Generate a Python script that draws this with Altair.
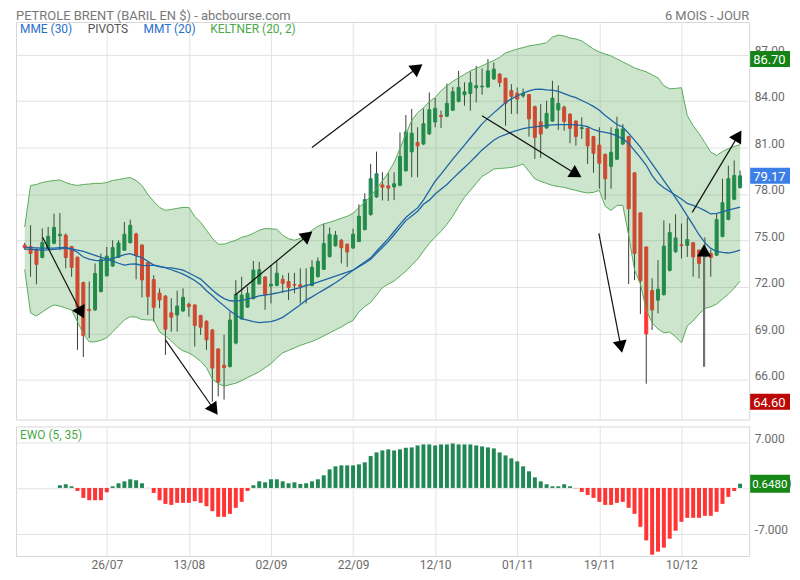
import json
import math
import altair as alt
import pandas as pd

TITLE = "PETROLE BRENT (BARIL EN $) - abcbourse.com"
PERIOD = "6 MOIS - JOUR"

tick_idx = [14, 28, 42, 56, 70, 84, 98, 112]
tick_labels = ["26/07", "13/08", "02/09", "22/09", "12/10", "01/11", "19/11", "10/12"]
price_ticks = [66, 69, 72, 75, 78, 81, 84, 87]
ewo_ticks = [-7, 0, 7]
ewo_tick_labels = ["-7.000", "0.0000", "7.000"]

opens = [74.70, 74.61, 74.38, 73.90, 74.45, 74.82, 75.30, 75.34, 74.60, 73.92,
         72.28, 70.56, 70.52, 71.70, 72.72, 73.35, 73.92, 74.37, 74.86, 75.42,
         74.70, 73.57, 72.48, 71.60, 71.40, 70.33, 70.19, 70.45, 70.88, 70.83,
         70.16, 69.79, 69.22, 68.00, 66.95, 66.87, 68.38, 69.94, 70.70, 71.25,
         72.20, 72.64, 72.06, 72.10, 72.50, 72.35, 72.15, 72.14, 72.07, 72.09,
         72.67, 73.14, 73.96, 74.65, 75.01, 74.76, 74.52, 74.93, 75.70, 76.67,
         77.81, 78.58, 78.52, 78.45, 78.56, 79.49, 80.72, 81.32, 81.22, 81.88,
         82.64, 83.07, 83.02, 83.40, 83.98, 84.40, 84.48, 84.85, 84.91, 84.90,
         85.42, 85.73, 85.46, 84.66, 84.50, 84.32, 84.41, 83.63, 82.65, 82.26,
         82.70, 83.42, 83.60, 83.15, 82.70, 82.22, 82.24, 81.70, 81.15, 80.56,
         79.78, 80.24, 81.22, 81.70, 79.36, 76.78, 74.58, 71.77, 71.15, 71.50,
         73.07, 74.28, 74.72, 74.68, 74.85, 74.38, 73.95, 74.16, 74.05, 75.26,
         76.36, 77.66, 78.41]
highs = [74.85, 75.98, 74.50, 75.77, 75.87, 76.73, 76.77, 75.45, 74.65, 73.95,
         72.35, 72.35, 73.52, 74.16, 74.58, 75.01, 75.01, 76.19, 76.34, 75.50,
         74.75, 73.60, 72.76, 71.90, 71.48, 71.27, 71.76, 71.91, 71.00, 70.90,
         70.20, 69.85, 69.30, 68.05, 68.91, 70.41, 72.44, 72.66, 72.01, 73.68,
         73.62, 72.70, 73.41, 73.67, 72.76, 72.91, 72.91, 73.20, 73.20, 73.73,
         73.90, 76.09, 75.83, 75.61, 75.10, 74.80, 75.77, 77.33, 78.05, 79.94,
         80.73, 79.40, 79.35, 79.40, 81.97, 83.09, 83.48, 82.30, 83.50, 84.55,
         84.20, 83.37, 85.12, 84.90, 85.94, 85.20, 85.90, 86.26, 86.10, 86.70,
         86.48, 85.80, 85.50, 85.08, 84.87, 84.80, 84.45, 83.70, 83.80, 84.01,
         85.30, 85.00, 83.70, 83.20, 82.75, 82.94, 82.30, 81.75, 82.30, 80.60,
         82.30, 82.98, 82.51, 81.75, 79.40, 76.80, 74.60, 72.56, 73.73, 76.30,
         76.10, 76.69, 76.09, 76.48, 74.90, 74.40, 75.20, 74.40, 76.73, 78.98,
         79.83, 80.16, 79.51]
lows = [74.40, 72.66, 72.17, 73.85, 74.40, 74.75, 74.37, 73.20, 72.66, 67.94,
        67.48, 68.70, 70.45, 71.65, 72.68, 73.30, 73.88, 74.35, 74.80, 72.49,
        71.33, 70.19, 69.76, 70.63, 67.62, 69.12, 69.12, 70.40, 70.08, 68.16,
        68.91, 67.94, 64.60, 64.94, 64.73, 66.80, 68.30, 69.90, 70.65, 71.20,
        72.15, 70.52, 70.94, 72.05, 71.63, 71.16, 71.59, 70.94, 70.94, 72.05,
        72.60, 73.10, 73.90, 74.60, 73.52, 73.30, 74.45, 74.90, 75.65, 76.60,
        77.75, 77.58, 77.55, 77.60, 78.50, 79.45, 79.08, 79.08, 81.15, 81.80,
        82.30, 82.26, 82.95, 83.35, 83.90, 83.69, 83.37, 83.90, 84.40, 84.85,
        85.35, 84.90, 82.40, 83.16, 83.16, 84.20, 81.70, 80.26, 80.33, 82.20,
        82.65, 82.13, 82.08, 81.27, 81.12, 81.55, 79.94, 79.37, 78.34, 77.63,
        78.34, 80.20, 81.15, 72.19, 72.44, 70.26, 65.76, 69.23, 70.30, 71.45,
        73.00, 74.20, 73.84, 73.94, 72.66, 72.55, 73.90, 72.66, 74.00, 75.20,
        76.30, 77.60, 78.35]
closes = [74.52, 74.16, 73.45, 74.86, 75.27, 75.84, 75.40, 73.90, 73.26, 70.70,
          68.86, 70.47, 72.87, 73.77, 73.99, 74.54, 74.84, 75.40, 75.98, 74.02,
          72.45, 71.38, 70.69, 71.16, 69.28, 70.05, 70.77, 71.33, 70.73, 69.51,
          69.40, 68.59, 66.77, 65.87, 66.80, 69.87, 71.52, 71.48, 71.59, 73.09,
          73.11, 71.52, 72.18, 72.89, 72.23, 71.97, 72.12, 71.99, 72.10, 73.27,
          73.66, 74.80, 75.39, 75.34, 74.53, 74.26, 75.40, 76.56, 77.64, 78.98,
          79.30, 78.44, 78.38, 78.66, 80.41, 82.00, 81.92, 81.10, 82.53, 83.43,
          83.52, 83.00, 83.84, 84.59, 84.87, 84.59, 85.17, 84.98, 84.96, 85.94,
          86.05, 85.19, 83.84, 84.29, 84.12, 84.50, 82.84, 81.65, 81.87, 83.20,
          84.18, 83.84, 82.68, 82.23, 81.70, 82.28, 81.10, 80.62, 79.98, 78.98,
          80.69, 82.19, 82.19, 77.05, 74.16, 72.40, 68.97, 70.52, 71.85, 74.63,
          75.51, 75.16, 74.67, 75.06, 73.94, 73.52, 74.37, 73.90, 76.35, 77.44,
          78.98, 79.19, 79.17]
kelt_up = [75.87, 78.55, 78.61, 78.74, 78.81, 78.87, 78.90, 78.74, 78.61, 78.55,
           78.61, 78.64, 78.68, 78.68, 78.74, 78.87, 78.93, 79.00, 79.06, 78.87,
           78.55, 77.97, 77.52, 77.13, 76.94, 77.00, 77.07, 77.13, 77.13, 76.55,
           76.17, 75.66, 75.14, 74.76, 74.76, 74.89, 75.01, 75.20, 75.30, 75.46,
           75.66, 75.77, 75.75, 75.72, 75.34, 75.11, 75.01, 75.14, 75.34, 75.66,
           75.91, 76.07, 76.17, 76.30, 76.43, 76.56, 76.75, 77.13, 77.46, 77.84,
           78.36, 78.84, 79.38, 80.03, 80.93, 81.87, 82.73, 83.24, 83.56, 83.95,
           84.22, 84.65, 84.98, 85.26, 85.49, 85.71, 85.94, 86.10, 86.26, 86.45,
           86.61, 86.81, 87.10, 87.22, 87.35, 87.44, 87.55, 87.61, 87.67, 87.76,
           88.12, 88.25, 88.19, 88.06, 88.00, 87.87, 87.61, 87.35, 87.16, 87.03,
           86.90, 86.71, 86.52, 86.33, 86.13, 86.00, 85.88, 85.68, 85.49, 84.98,
           84.78, 84.81, 84.85, 83.05, 82.40, 81.89, 81.31, 80.70, 80.48, 80.73,
           80.93, 81.06, 81.18]
kelt_lo = [73.13, 70.32, 70.13, 70.39, 70.64, 70.84, 70.77, 70.64, 70.52, 69.75,
           68.98, 68.46, 68.46, 68.56, 68.72, 69.10, 69.49, 69.87, 70.08, 70.06,
           69.90, 69.87, 69.87, 69.10, 68.85, 68.52, 68.14, 67.88, 67.75, 67.50,
           67.21, 66.79, 66.05, 65.76, 65.60, 65.70, 65.79, 65.95, 66.15, 66.34,
           66.53, 66.79, 67.05, 67.43, 67.75, 67.91, 68.07, 68.23, 68.36, 68.49,
           68.65, 68.84, 69.04, 69.23, 69.42, 69.65, 69.84, 70.39, 70.74, 71.00,
           71.48, 71.96, 72.19, 72.38, 72.70, 73.02, 73.41, 73.79, 74.31, 74.82,
           75.21, 75.59, 76.04, 76.56, 77.20, 77.78, 78.23, 78.68, 79.13, 79.35,
           79.61, 79.64, 79.67, 79.71, 79.80, 79.93, 79.45, 78.97, 78.81, 78.68,
           78.55, 78.48, 78.42, 78.32, 78.23, 78.13, 78.07, 78.10, 78.23, 77.20,
           76.94, 77.26, 77.26, 75.34, 73.09, 72.19, 70.52, 69.68, 69.29, 69.04,
           69.10, 68.78, 68.40, 69.49, 69.81, 70.26, 70.62, 70.72, 70.90, 71.22,
           71.54, 71.93, 72.38]
mmt20 = [74.44, 74.42, 74.40, 74.38, 74.39, 74.42, 74.46, 74.50, 74.42, 74.24,
         73.93, 73.80, 73.72, 73.68, 73.76, 73.84, 73.95, 74.08, 74.15, 74.00,
         73.89, 73.66, 73.41, 73.33, 73.25, 73.11, 72.98, 72.83, 72.63, 72.42,
         72.14, 71.76, 71.43, 71.10, 70.78, 70.46, 70.19, 69.95, 69.86, 69.77,
         69.70, 69.73, 69.76, 69.88, 70.04, 70.30, 70.58, 70.85, 71.15, 71.36,
         71.59, 71.81, 72.04, 72.27, 72.53, 72.81, 73.08, 73.35, 73.61, 73.88,
         74.30, 74.71, 75.12, 75.58, 76.04, 76.48, 76.80, 77.10, 77.60, 78.21,
         78.82, 79.28, 79.76, 80.24, 80.70, 81.15, 81.61, 82.06, 82.52, 82.89,
         83.23, 83.56, 83.90, 84.13, 84.32, 84.51, 84.65, 84.74, 84.76, 84.72,
         84.69, 84.61, 84.47, 84.32, 84.21, 84.03, 83.85, 83.65, 83.40, 83.06,
         82.77, 82.48, 82.32, 81.91, 81.47, 81.02, 80.48, 79.94, 79.41, 78.86,
         78.32, 77.74, 77.18, 76.58, 75.99, 75.37, 74.86, 74.49, 74.29, 74.23,
         74.19, 74.27, 74.37]
mme30 = [74.56, 74.54, 74.52, 74.50, 74.50, 74.51, 74.54, 74.55, 74.46, 74.37,
         74.29, 74.17, 74.04, 73.91, 73.80, 73.66, 73.53, 73.41, 73.47, 73.48,
         73.39, 73.38, 73.41, 73.31, 73.25, 73.23, 73.16, 73.08, 72.90, 72.71,
         72.51, 72.16, 71.81, 71.49, 71.25, 71.11, 71.08, 71.13, 71.22, 71.31,
         71.42, 71.48, 71.54, 71.61, 71.70, 71.77, 71.86, 71.96, 72.10, 72.19,
         72.31, 72.44, 72.57, 72.70, 72.83, 72.96, 73.08, 73.31, 73.53, 73.79,
         74.17, 74.55, 74.93, 75.37, 75.83, 76.28, 76.58, 76.88, 77.33, 77.60,
         78.00, 78.31, 78.61, 78.99, 79.35, 79.71, 80.07, 80.45, 80.84, 81.16,
         81.46, 81.69, 81.83, 81.99, 82.10, 82.21, 82.28, 82.33, 82.38, 82.42,
         82.45, 82.47, 82.47, 82.47, 82.46, 82.42, 82.35, 82.16, 82.04, 81.97,
         81.89, 81.75, 81.55, 81.28, 80.80, 80.34, 79.85, 79.18, 78.70, 78.40,
         78.16, 77.92, 77.67, 77.39, 77.26, 77.11, 76.92, 76.71, 76.75, 76.85,
         76.95, 77.05, 77.15]
ewo = [None, None, None, None, None, None, 0.41, 0.56, 0.25, -0.46,
       -1.52, -1.88, -1.88, -1.88, -0.66, 0.25, 0.71, 1.01, 1.32, 1.17,
       0.71, 0.02, -0.76, -1.88, -2.44, -2.59, -2.28, -2.28, -2.28, -2.03,
       -2.28, -2.79, -3.55, -4.41, -4.41, -3.96, -3.04, -2.13, -0.46, 0.41,
       1.01, 0.86, 1.32, 1.32, 1.01, 0.71, 0.86, 0.61, 0.71, 1.01,
       1.32, 1.93, 2.84, 3.30, 3.45, 3.45, 3.45, 3.60, 3.91, 4.87,
       5.43, 5.73, 5.89, 5.73, 5.89, 6.14, 6.19, 6.49, 6.65, 6.65,
       6.49, 6.65, 6.65, 6.80, 6.65, 6.65, 6.65, 6.49, 6.34, 6.19,
       6.04, 5.43, 4.97, 4.52, 4.06, 3.30, 2.54, 1.62, 1.01, 0.56,
       0.25, 0.25, 0.56, 0.25, -0.05, -0.61, -1.07, -1.52, -2.13, -2.59,
       -2.59, -2.28, -2.13, -3.04, -3.96, -5.94, -8.02, -10.20, -9.74, -9.13,
       -7.76, -6.54, -5.18, -4.57, -4.57, -4.57, -4.26, -4.26, -3.65, -2.44,
       -1.37, -0.46, 0.648]

# hand-drawn arrows (candle index, price)
arr_x1 = [3.05, 24.0, 35.9, 48.98, 77.98, 97.92, 115.86, 113.84]
arr_p1 = [75.21, 68.59, 71.48, 80.99, 83.05, 75.46, 66.85, 76.81]
arr_x2 = [10.26, 33.1, 49.31, 68.09, 95.24, 101.94, 115.86, 122.4]
arr_p2 = [69.87, 63.65, 75.66, 86.45, 79.00, 67.62, 74.89, 82.21]
arr_line_color = ["#111111"] * 6 + ["#707070", "#111111"]
arr_line_width = [1.2] * 6 + [2.2, 1.2]

legend_labels = ["MME (30)", "PIVOTS", "MMT (20)", "KELTNER (20, 2)"]
legend_colors = ["#2a6fc9", "#555555", "#2a6fc9", "#4aa84a"]
legend_xpos = [4, 72, 128, 195]

N = len(closes)
assert all(len(a) == N for a in [opens, highs, lows, kelt_up, kelt_lo, mmt20, mme30, ewo])

W, H_TOP, H_BOT = 736, 399, 130
XMIN, XMAX = -0.64, 122.7
YMIN, YMAX = 63.45, 89.09
EMIN, EMAX = -10.40, 9.39
BADGE_W = 41

GREEN, RED = "#218855", "#ff3434"
BAND, EDGE, MA = "#2b932b", "#5aaa5a", "#1e64a5"

df = pd.DataFrame({"i": list(range(N)), "o": opens, "h": highs, "l": lows, "c": closes,
                   "up": kelt_up, "lo": kelt_lo, "mmt": mmt20, "mme": mme30, "ewo": ewo})
df["dir"] = ["hausse" if c >= o else "baisse" for o, c in zip(opens, closes)]
df["esign"] = ["pos" if (e is not None and e >= 0) else "neg" for e in ewo]

PXX = W / (XMAX - XMIN)
PXY = H_TOP / (YMAX - YMIN)
PXE = H_BOT / (EMAX - EMIN)
HEAD_BACK = 8.2
rows = []
for x1, p1, x2, p2, lc, lw in zip(arr_x1, arr_p1, arr_x2, arr_p2, arr_line_color, arr_line_width):
    dx = (x2 - x1) * PXX
    dy = -(p2 - p1) * PXY
    L = math.hypot(dx, dy)
    ux, uy = dx / L, dy / L
    ang = math.degrees(math.atan2(dx, -dy)) % 360
    rows.append({"x1": x1, "p1": p1, "hx": x2 - HEAD_BACK * ux / PXX,
                 "hp": p2 + HEAD_BACK * uy / PXY, "ang": ang, "lc": lc, "lw": lw})
arrows = pd.DataFrame(rows)

hi_v, lo_v, last_v = max(highs), min(lows), closes[-1]
badges = pd.DataFrame({"v": [hi_v, last_v, lo_v],
                       "lab": [f"{hi_v:.2f}", f"{last_v:.2f}", f"{lo_v:.2f}"],
                       "bg": ["#148214", "#3b7fe6", "#bb0707"]})
badges["v1"] = badges["v"] + 8 / PXY
badges["v2"] = badges["v"] - 8 / PXY
ewo_last = ewo[-1]
ebadge = pd.DataFrame({"v": [ewo_last], "lab": [f"{ewo_last:.4f}"], "bg": ["#168716"]})
ebadge["v1"] = ebadge["v"] + 9 / PXE
ebadge["v2"] = ebadge["v"] - 9 / PXE
one = pd.DataFrame({"k": [0]})

xscale = alt.Scale(domain=[XMIN, XMAX], nice=False, zero=False)
yscale = alt.Scale(domain=[YMIN, YMAX], nice=False, zero=False)
escale = alt.Scale(domain=[EMIN, EMAX], nice=False, zero=False)

x_axis_top = alt.Axis(values=tick_idx, labels=False, grid=True, title=None)
label_expr = f"{json.dumps(tick_labels)}[indexof({json.dumps(tick_idx)}, datum.value)]"
x_axis_bot = alt.Axis(values=tick_idx, labelExpr=label_expr, grid=True, title=None,
                      labelPadding=4, labelFlush=False)
y_axis_top = alt.Axis(orient="right", values=price_ticks, format=".2f", grid=True, title=None,
                      labelPadding=5, labelBaseline="alphabetic", labelFlush=False)
e_expr = f"{json.dumps(ewo_tick_labels)}[indexof({json.dumps(ewo_ticks)}, datum.value)]"
y_axis_bot = alt.Axis(orient="right", values=ewo_ticks, labelExpr=e_expr, grid=True, title=None,
                      labelPadding=5, labelBaseline="alphabetic", labelFlush=False)


def Xt(f):
    return alt.X(f"{f}:Q", scale=xscale, axis=x_axis_top)


def Yt(f):
    return alt.Y(f"{f}:Q", scale=yscale, axis=y_axis_top)


def Ye(f):
    return alt.Y(f"{f}:Q", scale=escale, axis=y_axis_bot)


base = alt.Chart(df)
dir_color = alt.Scale(domain=["hausse", "baisse"], range=[GREEN, RED])

wicks = base.mark_rule(color="#3a3a3a", strokeWidth=1).encode(x=Xt("i"), y=Yt("l"), y2="h:Q")
bodies = base.mark_bar(width=3, strokeWidth=1).encode(
    x=Xt("i"), y=Yt("o"), y2="c:Q",
    color=alt.Color("dir:N", scale=dir_color, legend=None),
    stroke=alt.Stroke("dir:N", scale=dir_color, legend=None))
band = base.mark_area(color=BAND, opacity=0.24).encode(x=Xt("i"), y=Yt("lo"), y2="up:Q")
band_up = base.mark_line(color=EDGE, strokeWidth=1).encode(x=Xt("i"), y=Yt("up"))
band_lo = base.mark_line(color=EDGE, strokeWidth=1).encode(x=Xt("i"), y=Yt("lo"))
ma1 = base.mark_line(color=MA, strokeWidth=1.3).encode(x=Xt("i"), y=Yt("mmt"))
ma2 = base.mark_line(color=MA, strokeWidth=1.3).encode(x=Xt("i"), y=Yt("mme"))

arr_lines = alt.Chart(arrows).mark_rule().encode(
    x=Xt("x1"), y=Yt("p1"), x2="hx:Q", y2="hp:Q",
    color=alt.Color("lc:N", scale=None), strokeWidth=alt.StrokeWidth("lw:Q", scale=None))
arr_heads = alt.Chart(arrows).mark_point(shape="triangle-up", filled=True, size=200,
                                         opacity=1, color="#000000", strokeWidth=0).encode(
    x=Xt("hx"), y=Yt("hp"), angle=alt.Angle("ang:Q", scale=None))

texts = []
for lab, col, px in zip(legend_labels, legend_colors, legend_xpos):
    texts.append(alt.Chart(one).mark_text(align="left", baseline="middle", fontSize=12,
                                          color=col).encode(
        x=alt.value(px), y=alt.value(7), text=alt.value(lab)))
texts.append(alt.Chart(one).mark_text(align="left", baseline="middle", fontSize=13,
                                      color="#787878").encode(
    x=alt.value(0), y=alt.value(-6.5), text=alt.value(TITLE)))
texts.append(alt.Chart(one).mark_text(align="right", baseline="middle", fontSize=13,
                                      color="#787878").encode(
    x=alt.value(W), y=alt.value(-6.5), text=alt.value(PERIOD)))

badge_bg = alt.Chart(badges).mark_rect(strokeWidth=0).encode(
    x=alt.value(W + 1), x2=alt.value(W + BADGE_W), y=Yt("v1"), y2="v2:Q",
    color=alt.Color("bg:N", scale=None))
badge_tx = alt.Chart(badges).mark_text(align="left", baseline="middle", fontSize=13,
                                       color="white", dy=1).encode(
    x=alt.value(W + 4), y=Yt("v"), text="lab:N")

top = alt.layer(wicks, bodies, band, band_up, band_lo, ma1, ma2, arr_lines, arr_heads,
                *texts, badge_bg, badge_tx).properties(width=W, height=H_TOP)

Xb = alt.X("i:Q", scale=xscale, axis=x_axis_bot)
ewo_bars = alt.Chart(df).mark_bar(width=4).encode(
    x=Xb, y=Ye("ewo"), y2=alt.datum(0),
    color=alt.Color("esign:N", scale=alt.Scale(domain=["pos", "neg"], range=["#3a9a32", "#d23434"]),
                    legend=None))
ewo_label = alt.Chart(one).mark_text(align="left", baseline="middle", fontSize=12,
                                     color="#4aa84a").encode(
    x=alt.value(4), y=alt.value(9), text=alt.value("EWO (5, 35)"))
eb_bg = alt.Chart(ebadge).mark_rect(strokeWidth=0).encode(
    x=alt.value(W + 1), x2=alt.value(W + BADGE_W), y=Ye("v1"), y2="v2:Q",
    color=alt.Color("bg:N", scale=None))
eb_tx = alt.Chart(ebadge).mark_text(align="left", baseline="middle", fontSize=11.5,
                                    color="white", dy=1).encode(
    x=alt.value(W + 3), y=Ye("v"), text="lab:N")

bottom = alt.layer(ewo_bars, ewo_label, eb_bg, eb_tx).properties(width=W, height=H_BOT)

chart = (alt.vconcat(top, bottom, spacing=5)
         .properties(padding={"left": 7, "top": 0, "right": 0, "bottom": 0}, background="white")
         .configure(font="Roboto")
         .configure_view(stroke="#d7d7d7", strokeWidth=1)
         .configure_axis(labelFont="Roboto", labelFontSize=12, labelColor="#6b6b6b",
                         gridColor="#e3e3e3", gridWidth=1, domain=False, ticks=False))

chart.save("out.html", embed_options={"renderer": "svg", "actions": False})
